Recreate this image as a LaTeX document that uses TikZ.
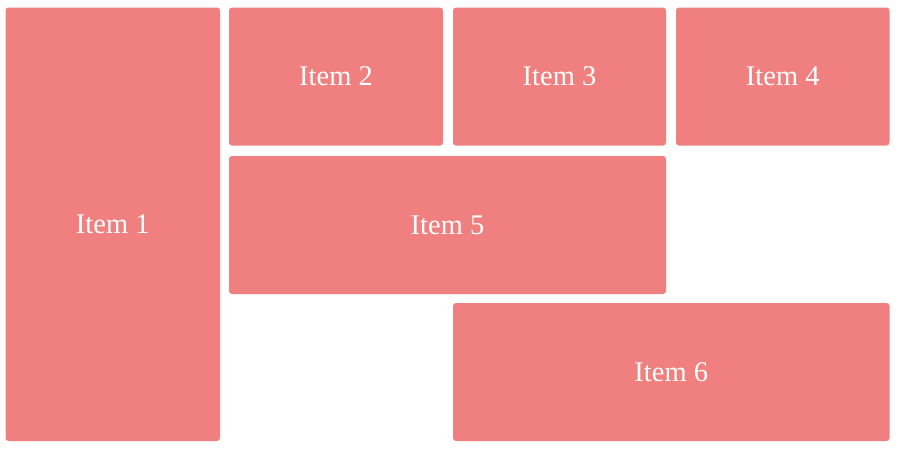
\documentclass[tikz,border=0pt]{standalone}
\usepackage{fontspec}
\setmainfont{Liberation Serif}
\definecolor{lightcoral}{HTML}{F08080}
\begin{document}
\begin{tikzpicture}[x=1pt, y=-1pt,
    item/.style={fill=lightcoral, rounded corners=3pt, text=white, inner sep=0pt,
      font=\fontsize{28.5}{30}\selectfont}]
        \useasboundingbox (0, 0) rectangle (900, 448);
        \node[item, minimum width=214.5pt, minimum height=433.5pt] (item1) at (112.75, 224.25) {Item 1};
        \node[item, minimum width=214pt, minimum height=138pt] (item2) at (336, 76.5) {Item 2};
        \node[item, minimum width=213pt, minimum height=138pt] (item3) at (559.5, 76.5) {Item 3};
        \node[item, minimum width=213.5pt, minimum height=138pt] (item4) at (782.75, 76.5) {Item 4};
        \node[item, minimum width=437pt, minimum height=138pt] (item5) at (447.5, 225) {Item 5};
        \node[item, minimum width=436.5pt, minimum height=138pt] (item6) at (671.25, 372) {Item 6};
      \end{tikzpicture}
\end{document}
